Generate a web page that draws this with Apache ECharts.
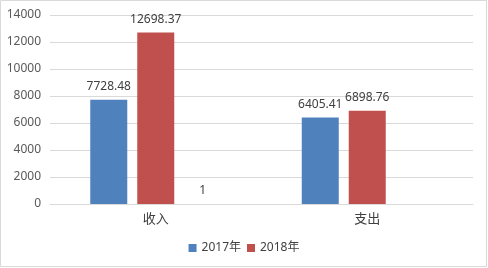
<!DOCTYPE html>
<html><head><meta charset="utf-8">
<script src="https://cdn.jsdelivr.net/npm/echarts@6/dist/echarts.min.js"></script>
<style>html,body{margin:0;padding:0;background:#fff}#c{width:488px;height:268px}</style>
</head><body><div id="c"></div>
<script>
var categories = ['收入', '支出'];
var series2017 = [7728.48, 6405.41];
var series2018 = [12698.37, 6898.76];
var seriesExtra = [1, null];
var yTicks = [0, 2000, 4000, 6000, 8000, 10000, 12000, 14000];

var font = '"Noto Sans", "Noto Sans CJK SC", sans-serif';
var chart = echarts.init(document.getElementById('c'));
var lbl = {show: true, position: 'top', distance: 7, color: '#404040', fontSize: 12, fontFamily: font};
chart.setOption({
  animation: false,
  graphic: [{type: 'rect', shape: {x: 0.5, y: 0.5, width: 486, height: 266}, style: {fill: 'none', stroke: '#d9d9d9', lineWidth: 1}}],
  grid: {left: 50, right: 15, top: 15, bottom: 64},
  legend: {
    data: ['2017年', '2018年'], bottom: 9, left: 'center', itemWidth: 8, itemHeight: 8, itemGap: 6,
    icon: 'rect', textStyle: {color: '#404040', fontSize: 12, fontFamily: font}
  },
  xAxis: {
    type: 'category', data: categories,
    axisLine: {lineStyle: {color: '#d9d9d9'}}, axisTick: {show: false},
    axisLabel: {color: '#404040', fontSize: 13, fontFamily: font, margin: 9}
  },
  yAxis: {
    type: 'value', min: yTicks[0], max: yTicks[yTicks.length - 1], interval: 2000,
    axisLine: {show: false}, axisTick: {show: false},
    splitLine: {lineStyle: {color: '#d9d9d9'}},
    axisLabel: {color: '#595959', fontSize: 12, fontFamily: font, margin: 9, formatter: function (v) { return String(v); }}
  },
  series: [
    {name: '2017年', type: 'bar', data: series2017, barWidth: 37, barGap: '27%', itemStyle: {color: '#4F81BD'}, label: lbl},
    {name: '2018年', type: 'bar', data: series2018, barWidth: 37, barGap: '27%', itemStyle: {color: '#C0504D'}, label: lbl},
    {name: 'extra', type: 'bar', data: seriesExtra, barWidth: 37, barGap: '27%', itemStyle: {color: '#9BBB59'}, label: lbl}
  ]
});
</script></body></html>
